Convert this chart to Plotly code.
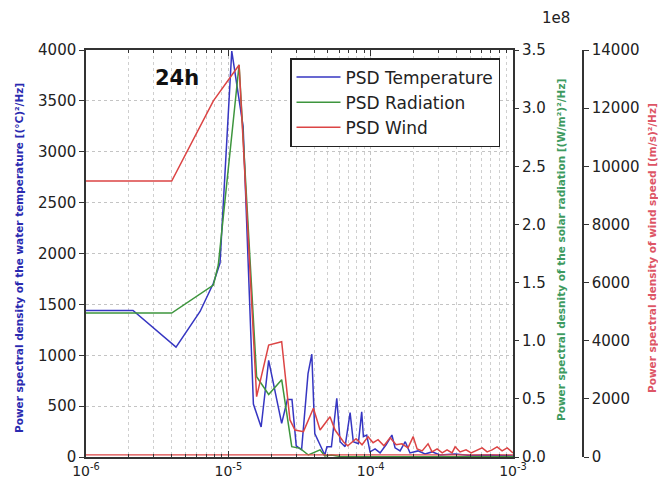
import plotly.graph_objects as go

# ---------------- data ----------------
# PSD of water temperature  [(°C)^2/Hz]
f_temp = [1.0e-6, 2.14e-6, 4.29e-6, 6.33e-6, 7.85e-6, 8.74e-6, 1.057e-5, 1.27e-5, 1.5e-5,
          1.70e-5, 1.92e-5, 2.37e-5, 2.6e-5, 2.8e-5, 3.0e-5, 3.27e-5, 3.63e-5, 3.86e-5,
          4.05e-5, 4.4e-5, 4.76e-5, 4.93e-5, 5.3e-5, 5.78e-5, 6.1e-5, 6.61e-5, 7.17e-5,
          7.55e-5, 8.19e-5, 8.65e-5, 8.89e-5, 9.38e-5, 9.9e-5, 1.074e-4, 1.165e-4,
          1.283e-4, 1.41e-4, 1.484e-4, 1.61e-4, 1.75e-4, 1.89e-4, 2.15e-4, 2.41e-4,
          2.70e-4, 3.07e-4, 3.92e-4, 5.0e-4, 6.9e-4, 1.0e-3]
psd_temp = [1440, 1440, 1080, 1430, 1707, 1906, 3990, 3250, 520,
            295, 950, 331, 565, 565, 110, 70, 820, 1010,
            230, 118, 20, 101, 101, 577, 150, 101, 436,
            150, 130, 445, 200, 216, 50, 80, 40,
            120, 216, 90, 60, 150, 40, 60, 30,
            50, 20, 30, 15, 20, 10]

# PSD of solar radiation [(W/m^2)^2/Hz]
f_rad = [1.0e-6, 4.0e-6, 7.85e-6, 8.5e-6, 1.19e-5, 1.58e-5, 1.92e-5, 2.37e-5, 2.79e-5,
         3.19e-5, 3.65e-5, 4.41e-5, 4.76e-5, 5.3e-5, 6.1e-5, 1.0e-4, 3.0e-4, 1.0e-3]
psd_rad = [1.238e8, 1.238e8, 1.479e8, 1.651e8, 3.373e8, 6.91e7, 5.38e7, 6.65e7, 8.84e6,
           7.44e6, 1.75e6, 6.13e6, 8.75e5, 1.75e6, 4.4e5, 4.4e5, 2.6e5, 1.8e5]

# PSD of wind speed [(m/s)^2/Hz]
f_wind = [1.0e-6, 4.0e-6, 7.85e-6, 1.19e-5, 1.58e-5, 1.92e-5, 2.37e-5, 2.71e-5, 2.94e-5,
          3.37e-5, 3.96e-5, 4.41e-5, 5.18e-5, 5.62e-5, 6.43e-5, 6.9e-5, 7.9e-5, 8.7e-5,
          9.59e-5, 1.04e-4, 1.127e-4, 1.24e-4, 1.37e-4, 1.51e-4, 1.66e-4, 1.83e-4,
          1.99e-4, 2.12e-4, 2.30e-4, 2.53e-4, 2.70e-4, 2.93e-4, 3.18e-4, 3.44e-4,
          3.73e-4, 3.92e-4, 4.25e-4, 4.68e-4, 5.08e-4, 5.51e-4, 6.07e-4, 6.58e-4,
          7.13e-4, 7.73e-4, 8.38e-4, 9.1e-4, 1.0e-3]
psd_wind = [9492, 9492, 12250, 13486, 2076, 3850, 3966, 1274, 928,
            872, 1677, 928, 1386, 928, 525, 385, 630, 420,
            700, 490, 595, 385, 665, 420, 455, 315,
            700, 280, 210, 455, 175, 280, 140, 245,
            140, 350, 175, 245, 140, 210, 315, 175,
            245, 350, 210, 315, 140]

# thin wind baseline seen along the bottom
f_base = [1.0e-6, 1.0e-3]
wind_base = [70, 70]

x_ticks = [1e-6, 1e-5, 1e-4, 1e-3]
x_ticktext = ["10<sup>-6</sup>", "10<sup>-5</sup>", "10<sup>-4</sup>", "10<sup>-3</sup>"]
x_minor = [k * 10.0 ** e for e in (-6, -5, -4) for k in range(2, 10)]
y1_ticks = list(range(0, 4001, 500))
y2_ticks = [0, 0.5e8, 1.0e8, 1.5e8, 2.0e8, 2.5e8, 3.0e8, 3.5e8]
y2_ticktext = ["0.0", "0.5", "1.0", "1.5", "2.0", "2.5", "3.0", "3.5"]
y3_ticks = list(range(0, 14001, 2000))
y3_ticktext = [str(v) for v in y3_ticks]

# ---------------- style ----------------
BLUE = "#3636c2"
GREEN = "#3d953d"
RED = "#dc4444"
FONT = "DejaVu Sans"
AX = "#333333"

fig = go.Figure()
fig.add_trace(go.Scatter(x=f_temp, y=psd_temp, mode="lines", name="PSD Temperature",
                         line=dict(color=BLUE, width=1.5), yaxis="y"))
fig.add_trace(go.Scatter(x=f_rad, y=psd_rad, mode="lines", name="PSD Radiation",
                         line=dict(color=GREEN, width=1.5), yaxis="y2"))
fig.add_trace(go.Scatter(x=f_wind, y=psd_wind, mode="lines", name="PSD Wind",
                         line=dict(color=RED, width=1.5), yaxis="y3"))
fig.add_trace(go.Scatter(x=f_base, y=wind_base, mode="lines", showlegend=False,
                         line=dict(color=RED, width=1.2), yaxis="y3"))

W_PLOT = 514.0
fig.update_layout(
    width=658, height=480,
    margin=dict(l=86, r=58, t=50, b=23),
    paper_bgcolor="white", plot_bgcolor="white",
    font=dict(family=FONT, size=14, color="#222222"),
    showlegend=True,
    legend=dict(x=(290 - 86) / W_PLOT, y=1 - (58 - 50) / 407.0, xanchor="left", yanchor="top",
                bgcolor="white", bordercolor="#222222", borderwidth=1.5,
                font=dict(family=FONT, size=17, color="#222222"),
                tracegroupgap=0, itemwidth=44),
    xaxis=dict(type="log", domain=[0, 427 / W_PLOT], range=[-6, -3], automargin=False,
               tickmode="array", tickvals=x_ticks, ticktext=x_ticktext,
               ticks="inside", ticklen=6, tickcolor=AX, ticklabelstandoff=0,
               showline=True, linecolor=AX, linewidth=1.5, mirror="ticks",
               showgrid=True, gridcolor="#c4c4c4", griddash="dot", gridwidth=1,
               minor=dict(tickmode="array", tickvals=x_minor, ticks="inside", ticklen=3,
                          tickcolor=AX, showgrid=True, gridcolor="#cfcfcf",
                          griddash="dot", gridwidth=1),
               zeroline=False, tickfont=dict(size=14)),
    yaxis=dict(range=[0, 4000], tickmode="array", tickvals=y1_ticks, automargin=False,
               ticks="outside", ticklen=5, tickcolor=AX,
               showline=True, linecolor=AX, linewidth=1.5, mirror=True,
               showgrid=True, gridcolor="#c4c4c4", griddash="dot", gridwidth=1,
               zeroline=False, tickfont=dict(size=15)),
    yaxis2=dict(range=[0, 3.5e8], overlaying="y", side="right", anchor="x", automargin=False,
                tickmode="array", tickvals=y2_ticks, ticktext=y2_ticktext,
                ticks="outside", ticklen=5, tickcolor=AX,
                showline=False, showgrid=False, zeroline=False, tickfont=dict(size=15)),
    yaxis3=dict(range=[0, 14000], overlaying="y", side="right", anchor="free", automargin=False,
                position=(583 - 86) / W_PLOT,
                tickmode="array", tickvals=y3_ticks, ticktext=y3_ticktext,
                ticks="outside", ticklen=5, tickcolor=AX,
                showline=True, linecolor=AX, linewidth=1.5,
                showgrid=False, zeroline=False, tickfont=dict(size=15)),
)

def px_x(px):
    return (px - 86) / W_PLOT

def px_y(py):
    return 1 - (py - 50) / 407.0

annos = [
    dict(text="<b>24h</b>", x=px_x(177), y=px_y(78), font=dict(size=21, color="#111111")),
    dict(text="1e8", x=px_x(556), y=px_y(18), font=dict(size=15, color="#222222")),
    dict(text="<b>Power spectral density of the water temperature [(°C)²/Hz]</b>",
         x=px_x(19), y=px_y(258), textangle=-90, font=dict(size=10.5, color="#2a2ab0")),
    dict(text="<b>Power spectral desnity of the solar radiation [(W/m²)²/Hz]</b>",
         x=px_x(561), y=px_y(250), textangle=-90, font=dict(size=10.5, color="#3d9a60")),
    dict(text="<b>Power spectral density of wind speed [(m/s)²/Hz]</b>",
         x=px_x(652), y=px_y(248), textangle=-90, font=dict(size=10.5, color="#dd5566")),
]
for a in annos:
    fig.add_annotation(xref="paper", yref="paper", showarrow=False,
                       xanchor="center", yanchor="middle", font_family=FONT, **a)

fig.write_html("out.html")
